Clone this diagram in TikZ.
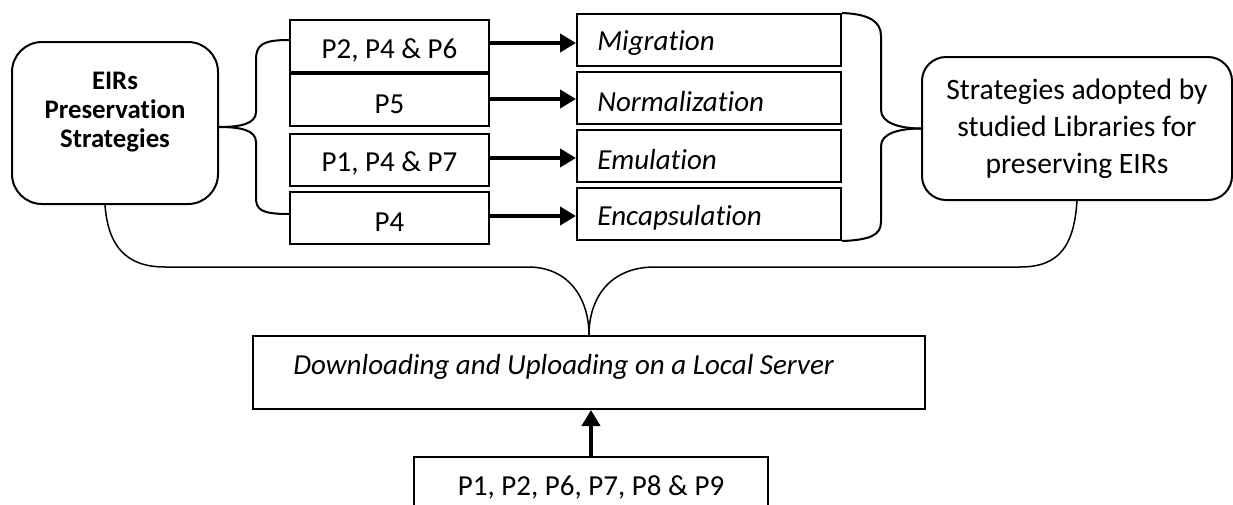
\documentclass[tikz,border=0pt]{standalone}
\usepackage{fontspec}
\setmainfont{Carlito}[RawFeature={-liga;-clig;-dlig}]
\usetikzlibrary{arrows.meta,calc}
\begin{document}
\begin{tikzpicture}[x=0.5pt,y=-0.5pt,
  box/.style={draw, line width=1pt, inner sep=0pt, rectangle},
  rbox/.style={box, rounded corners=#1},
  txt/.style={inner sep=0pt, font=\fontsize{14.5}{18.5}\selectfont},
  itxt/.style={txt, anchor=west, font=\fontsize{14.5}{18.5}\selectfont\itshape},
  arr/.style={line width=2.2pt, -{Triangle[length=8pt,width=9pt]}},
  conn/.style={line width=1pt},
  thinconn/.style={line width=0.75pt}]
\useasboundingbox (0,0) rectangle (1233,504);
\clip (0,0) rectangle (1233,504);
% left rounded box
\node[rbox=15pt, minimum width=103pt, minimum height=81pt] (L) at (115,123) {};
\node[txt, align=center, font=\fontsize{13.4}{14.7}\selectfont\bfseries] (Lt) at (115,112) {EIRs\\Preservation\\Strategies};
% right rounded box
\node[rbox=12pt, minimum width=155pt, minimum height=71.5pt, align=center, font=\fontsize{14.8}{18.5}\selectfont] (R) at (1077,128.5) {Strategies adopted by\\studied Libraries for\\preserving EIRs};
% P boxes
\foreach \n/\y in {1/46,2/100,3/160,4/218}{
  \node[box, minimum width=99.5pt, minimum height=26pt] (p\n) at (389.5,\y) {};
}
\node[txt] (pt1) at ([yshift=-2pt]p1.center) {P2, P4 \& P6};
\node[txt] (pt2) at ([yshift=-2pt]p2.center) {P5};
\node[txt] (pt3) at ([yshift=-1.5pt]p3.center) {P1, P4 \& P7};
\node[txt] (pt4) at ([yshift=-2pt]p4.center) {P4};
% strategy boxes
\foreach \n/\y in {1/40,2/98,3/156,4/214}{
  \node[box, minimum width=132pt, minimum height=26pt] (s\n) at (709,\y) {};
}
\node[itxt] (st1) at ([xshift=10.5pt,yshift=-1.5pt]s1.west) {Migration};
\node[itxt] (st2) at ([xshift=10.5pt,yshift=-2pt]s2.west) {Normalization};
\node[itxt] (st3) at ([xshift=10.5pt,yshift=-2pt]s3.west) {Emulation};
\node[itxt] (st4) at ([xshift=10.5pt,yshift=-2pt]s4.west) {Encapsulation};
% arrows
\foreach \n in {1,2,3,4}{
  \coordinate (m\n) at ($(p\n.east)!0.5!(s\n.west)$);
  \draw[arr] (p\n.east |- m\n) -- (s\n.west |- m\n);
}
% left brace
\draw[conn] ([yshift=3pt]p1.west) .. controls (262,40) and (256,45) .. (256,60) -- (256,112)
  .. controls (256,124) and (240,127) .. ([yshift=-2pt]L.east);
\draw[conn] ([yshift=-2pt]L.east) .. controls (240,127) and (256,130) .. (256,142) -- (256,198)
  .. controls (256,210) and (262,214) .. ([yshift=2pt]p4.west);
% right brace
\draw[conn] (s1.north east) .. controls (870,14) and (881,22) .. (881,36) -- (881,110)
  .. controls (881,123) and (900,128.5) .. (R.west);
\draw[conn] (R.west) .. controls (900,128.5) and (881,133) .. (881,146) -- (881,222)
  .. controls (881,235) and (870,240) .. (s4.south east);
% download box
\node[box, minimum width=336pt, minimum height=36.5pt] (D) at (589,372.5) {};
\node[itxt] (Dt) at ([xshift=20.5pt,yshift=3pt]D.west) {Downloading and Uploading on a Local Server};
% bottom box
\node[box, minimum width=177pt, minimum height=31.5pt] (B) at (591,488.5) {};
\node[txt] (Bt) at (591,487) {P1, P2, P6, P7, P8 \& P9};
% bottom connector
\draw[thinconn] ([xshift=-5pt]L.south) .. controls (108,245) and (125,267) .. (165,267) -- (528,267)
  .. controls (570,267) and (589,300) .. (D.north);
\draw[thinconn] (R.south) .. controls (1074,245) and (1060,267) .. (1020,267) -- (655,267)
  .. controls (608,267) and (589,300) .. (D.north);
% up arrow
\draw[arr] (B.north) -- (B.north |- D.south);
\end{tikzpicture}
\end{document}
